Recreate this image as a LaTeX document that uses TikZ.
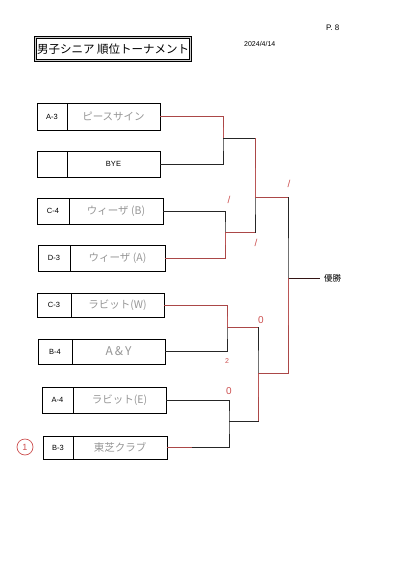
\documentclass[tikz,border=0pt]{standalone}
\usepackage{fontspec}
\setmainfont{Liberation Sans}
\newfontfamily\jp{Noto Sans CJK JP}
\definecolor{redpen}{RGB}{205,80,80}
\definecolor{pencil}{RGB}{150,150,150}
\tikzset{
  cell/.style={draw=black, line width=0.6pt, inner sep=0pt, outer sep=0pt, anchor=north west, font=\fontsize{7.5}{9}\selectfont},
  namecell/.style={cell, text=pencil, font=\jp\fontsize{10.5}{12}\selectfont},
  bracket/.style={draw=black!85, line width=0.7pt},
  redline/.style={draw=redpen, line width=0.8pt, opacity=0.8},
  redmark/.style={text=redpen, font=\fontsize{10}{11}\selectfont, inner sep=0pt}
}
\begin{document}
\begin{tikzpicture}[x=1pt,y=-1pt]
\useasboundingbox[fill=white] (0,0) rectangle (400,566);
% header
\node[draw=black, line width=1.1pt, double=gray!40, double distance=0.6pt, anchor=north west, minimum width=155pt, minimum height=23pt, inner sep=0pt, font=\jp\fontsize{11.5}{13}\selectfont] (title) at (35,37) {男子シニア 順位トーナメント};
\node[font=\fontsize{7}{8}\selectfont, anchor=west, inner sep=0pt] (date) at (244,44) {2024/4/14};
\node[font=\fontsize{8}{9}\selectfont, anchor=west, inner sep=0pt] (page) at (326,28) {P.\ 8};
% boxes
\node[cell, minimum width=30pt, minimum height=27pt] (l1) at (37,103) {A-3};
\node[namecell, minimum width=93pt, minimum height=27pt] (n1) at (67,103) {ピースサイン};
\node[cell, minimum width=30pt, minimum height=26pt] (l2) at (37,151) {};
\node[cell, minimum width=93pt, minimum height=26pt] (n2) at (67,151) {BYE};
\node[cell, minimum width=32pt, minimum height=26pt] (l3) at (37,198) {C-4};
\node[namecell, minimum width=94pt, minimum height=26pt] (n3) at (69,198) {ウィーザ (B)};
\node[cell, minimum width=32pt, minimum height=26pt] (l4) at (38,245) {D-3};
\node[namecell, minimum width=95pt, minimum height=26pt] (n4) at (70,245) {ウィーザ (A)};
\node[cell, minimum width=34pt, minimum height=24pt] (l5) at (37,293) {C-3};
\node[namecell, minimum width=93pt, minimum height=24pt] (n5) at (71,293) {ラビット(W)};
\node[cell, minimum width=34pt, minimum height=25pt] (l6) at (38,339) {B-4};
\node[namecell, minimum width=93pt, minimum height=25pt, font=\jp\fontsize{12}{13}\selectfont] (n6) at (72,339) {A\,\&\,Y};
\node[cell, minimum width=31pt, minimum height=26pt] (l7) at (42,387) {A-4};
\node[namecell, minimum width=93pt, minimum height=26pt] (n7) at (73,387) {ラビット(E)};
\node[cell, minimum width=30pt, minimum height=23pt] (l8) at (43,436) {B-3};
\node[namecell, minimum width=94pt, minimum height=23pt] (n8) at (73,436) {東芝クラブ};
% bracket points
\coordinate (j1) at (223,138);
\coordinate (j2) at (225,232);
\coordinate (j3) at (227,327);
\coordinate (j4) at (229,421);
\coordinate (k1) at (255,197);
\coordinate (k2) at (258,373);
\coordinate (f) at (288,278);
\coordinate (win) at (320,278);
% bracket lines
\draw[bracket] (n1.east) -| (j1) |- (n2.east);
\draw[bracket] (n3.east) -| (j2) |- (n4.east);
\draw[bracket] (n5.east) -| (j3) |- (n6.east);
\draw[bracket] (n7.east) -| (j4) |- (n8.east);
\draw[bracket] (j1) -| (k1) |- (j2);
\draw[bracket] (j3) -| (k2) |- (j4);
\draw[bracket] (k1) -| (f) |- (k2);
\draw[bracket, draw=black!75!redpen] (f) -- (win);
\node[font=\jp\fontsize{8.5}{10}\selectfont, anchor=west, inner sep=0pt] (champ) at (324,278) {優勝};
% red pencil marks
\draw[redline] (n1.east) -| (j1);
\draw[redline] (k1 |- j1) -- (k1) -- (f |- k1);
\draw[redline] (n4.east) -| (j2) -- (k1 |- j2);
\draw[redline] (n5.east) -| (j3) -- (k2 |- j3);
\draw[redline] (k2 |- j4) -- (k2) -- (f |- k2) -- (f);
\draw[redline] (n8.east) -- ++(25,0);
\node[redmark] (s1) at (289,184) {/};
\node[redmark] (s2) at (229,200) {/};
\node[redmark] (s3) at (256,243) {/};
\node[redmark] (z1) at (261,320) {0};
\node[redmark, font=\fontsize{7}{8}\selectfont] (t1) at (227,361) {2};
\node[redmark] (z2) at (229,391) {0};
\node[draw=redpen, circle, line width=0.7pt, minimum size=16pt, inner sep=0pt, text=redpen, font=\fontsize{9}{10}\selectfont] (c1) at (25,447) {1};
\end{tikzpicture}
\end{document}
